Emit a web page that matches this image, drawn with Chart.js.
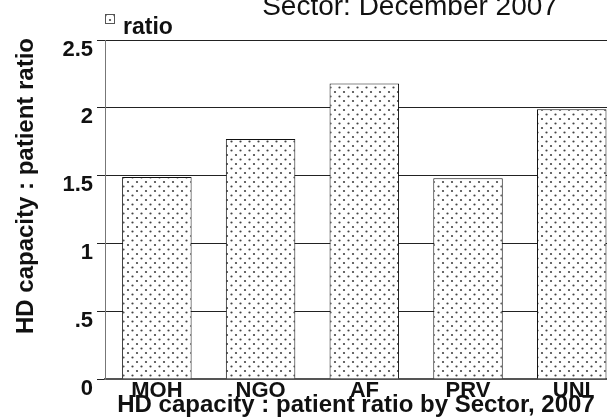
<!DOCTYPE html>
<html>
<head>
<meta charset="utf-8">
<script src="https://cdn.jsdelivr.net/npm/chart.js@4"></script>
<style>
  html, body { margin: 0; padding: 0; background: #fff; }
  #wrap { width: 607px; height: 420px; }
</style>
</head>
<body>
<div id="wrap"><canvas id="hdChart" width="607" height="420"></canvas></div>
<script>
  // ---- data ----
  const sectors   = ['MOH', 'NGO', 'AF', 'PRV', 'UNI'];
  const ratios    = [1.49, 1.77, 2.18, 1.48, 1.99];
  const yTicks    = [0, 0.5, 1, 1.5, 2, 2.5];
  const yTickText = ['0', '.5', '1', '1.5', '2', '2.5'];

  const FONT = "'Liberation Sans', Arial, Helvetica, sans-serif";

  // dotted fill like the stata pattern
  function dotPattern() {
    const c = document.createElement('canvas');
    c.width = 9; c.height = 9;
    const g = c.getContext('2d');
    g.fillStyle = '#fff';
    g.fillRect(0, 0, 9, 9);
    g.fillStyle = '#444';
    g.beginPath(); g.arc(2, 2, 1.1, 0, Math.PI * 2); g.fill();
    g.beginPath(); g.arc(6.5, 6.5, 1.1, 0, Math.PI * 2); g.fill();
    return g.createPattern(c, 'repeat');
  }
  const dots = dotPattern();

  // title fragment, legend key and y title
  const extras = {
    id: 'extras',
    afterDraw(chart) {
      const ctx = chart.ctx;
      ctx.save();
      ctx.fillStyle = '#111';
      ctx.textAlign = 'center';
      ctx.textBaseline = 'alphabetic';
      ctx.font = '28px ' + FONT;
      ctx.fillText('Sector: December 2007', 410, 15);

      // legend
      ctx.fillStyle = dots;
      ctx.fillRect(105, 14, 10, 10);
      ctx.strokeStyle = '#555';
      ctx.lineWidth = 1;
      ctx.strokeRect(105.5, 14.5, 9, 9);
      ctx.fillStyle = '#111';
      ctx.textAlign = 'left';
      ctx.font = 'bold 23px ' + FONT;
      ctx.fillText('ratio', 123, 34);

      // y title
      ctx.translate(33, 186);
      ctx.rotate(-Math.PI / 2);
      ctx.textAlign = 'center';
      ctx.font = 'bold 24px ' + FONT;
      ctx.fillText('HD capacity : patient ratio', 0, 0);
      ctx.restore();
    }
  };

  new Chart(document.getElementById('hdChart'), {
    type: 'bar',
    data: {
      datasets: [{
        label: 'ratio',
        data: sectors.map((s, i) => ({ x: i, y: ratios[i] })),
        backgroundColor: dots,
        borderColor: '#111',
        borderWidth: 1,
        categoryPercentage: 1,
        barPercentage: 0.67
      }]
    },
    options: {
      responsive: false,
      animation: false,
      layout: { padding: { left: 0, right: 0, top: 40, bottom: 0 } },
      plugins: {
        legend: { display: false },
        tooltip: { enabled: false }
      },
      scales: {
        x: {
          type: 'linear',
          offset: false,
          min: -0.5,
          max: 4.34,
          afterBuildTicks: axis => { axis.ticks = sectors.map((s, i) => ({ value: i })); },
          afterFit: axis => { axis.height = 41; },
          grid: { display: false, offset: false },
          border: { display: true, color: '#555', width: 2 },
          ticks: {
            padding: -7,
            autoSkip: false,
            maxRotation: 0,
            color: '#111',
            font: { family: FONT, size: 22, weight: 'bold', lineHeight: 1 },
            callback: v => sectors[v] ?? ''
          },
          title: {
            display: true,
            text: 'HD capacity : patient ratio by Sector, 2007',
            color: '#111',
            font: { family: FONT, size: 24, weight: 'bold', lineHeight: 1 },
            padding: { top: 0, bottom: 3 }
          }
        },
        y: {
          min: 0,
          max: 2.5,
          afterBuildTicks: axis => { axis.ticks = yTicks.map(v => ({ value: v })); },
          afterFit: axis => { axis.width = 105; },
          grid: { color: '#222', lineWidth: 1, tickLength: 8, tickColor: '#222' },
          border: { display: true, color: '#777', width: 1 },
          ticks: {
            padding: 4,
            color: '#111',
            font: { family: FONT, size: 22, weight: 'bold', lineHeight: '19px' },
            callback: v => ['', yTickText[yTicks.indexOf(v)]]
          }
        }
      }
    },
    plugins: [extras]
  });
</script>
</body>
</html>
